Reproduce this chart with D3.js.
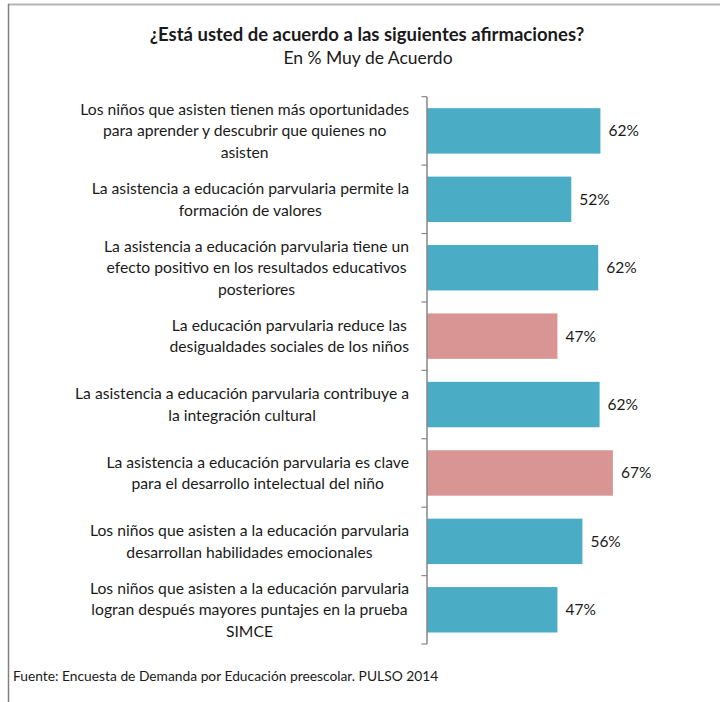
<!DOCTYPE html>
<html>
<head>
<meta charset="utf-8">
<script src="https://cdn.jsdelivr.net/npm/d3@7"></script>
<style>
  html, body { margin: 0; padding: 0; background: #fff; }
  svg { display: block; }
  text { font-family: Lato, "Open Sans", sans-serif; fill: #1a1a1a; }
</style>
</head>
<body>
<svg id="chart" width="720" height="702"></svg>
<script>
// ---- data ----
const categoryLines = [
  ["Los niños que asisten tienen más oportunidades", "para aprender y descubrir que quienes no", "asisten"],
  ["La asistencia a educación parvularia permite la", "formación de valores"],
  ["La asistencia a educación parvularia tiene un", "efecto positivo en los resultados educativos", "posteriores"],
  ["La educación parvularia reduce las", "desigualdades sociales de los niños"],
  ["La asistencia a educación parvularia contribuye a", "la integración cultural"],
  ["La asistencia a educación parvularia es clave", "para el desarrollo intelectual del niño"],
  ["Los niños que asisten a la educación parvularia", "desarrollan habilidades emocionales"],
  ["Los niños que asisten a la educación parvularia", "logran después mayores puntajes en la prueba", "SIMCE"]
];
const values = [62.5, 52, 61.7, 47, 62.2, 67, 56, 47];
const valueLabels = ["62%", "52%", "62%", "47%", "62%", "67%", "56%", "47%"];
const highlighted = [false, false, false, true, false, true, false, false];
const titleText = "¿Está usted de acuerdo a las siguientes afirmaciones?";
const subtitleText = "En % Muy de Acuerdo";
const sourceText = "Fuente: Encuesta de Demanda por Educación preescolar. PULSO 2014";

// ---- layout ----
const svg = d3.select("#chart");
const axisX = 427;
const plotTop = 96.7, plotBottom = 644;
const colorMain = "#4BACC6", colorHi = "#D99594";

// frame
svg.append("line").attr("x1", 8).attr("x2", 720).attr("y1", 4.5).attr("y2", 4.5)
  .attr("stroke", "#b4b4b4").attr("stroke-width", 2);
svg.append("line").attr("x1", 8.5).attr("x2", 8.5).attr("y1", 4).attr("y2", 702)
  .attr("stroke", "#808080").attr("stroke-width", 1.5);

// titles
svg.append("text").attr("x", 367).attr("y", 41).attr("text-anchor", "middle")
  .style("font-weight", "bold").style("font-size", "18.5px").text(titleText);
svg.append("text").attr("x", 368).attr("y", 64).attr("text-anchor", "middle")
  .style("font-size", "17.5px").text(subtitleText);

const idx = d3.range(values.length);
const y = d3.scaleBand().domain(idx).range([plotTop, plotBottom]).paddingInner(0.336).paddingOuter(0.168);
const x = d3.scaleLinear().domain([0, 100]).range([axisX, axisX + 277.5]);

// bars
svg.append("g").selectAll("rect").data(idx).join("rect")
  .attr("x", x(0))
  .attr("y", i => y(i))
  .attr("width", i => x(values[i]) - x(0))
  .attr("height", y.bandwidth())
  .attr("fill", i => highlighted[i] ? colorHi : colorMain);

// value labels
svg.append("g").selectAll("text").data(idx).join("text")
  .attr("x", i => x(values[i]) + 8)
  .attr("y", i => y(i) + y.bandwidth() / 2)
  .attr("dy", "0.35em")
  .style("font-size", "15.5px")
  .text(i => valueLabels[i]);

// axis line + ticks at band boundaries
const axisG = svg.append("g");
axisG.append("line").attr("x1", axisX).attr("x2", axisX).attr("y1", plotTop).attr("y2", plotBottom)
  .attr("stroke", "#878787").attr("stroke-width", 1.5);
const step = y.step();
const boundaries = d3.range(values.length + 1).map(k => y(0) + y.bandwidth() / 2 - step / 2 + k * step);
axisG.selectAll("line.tick").data(boundaries).join("line").attr("class", "tick")
  .attr("x1", axisX - 5.5).attr("x2", axisX).attr("y1", d => d).attr("y2", d => d)
  .attr("stroke", "#878787").attr("stroke-width", 1.2);

// category labels: centered block, right-aligned to label edge
const labelRight = 409;
const lineH = 21.5;
const catG = svg.append("g");
idx.forEach(i => {
  const lines = categoryLines[i];
  const cy = y(i) + y.bandwidth() / 2;
  const t = catG.append("text").attr("text-anchor", "middle").style("font-size", "15.7px");
  const spans = lines.map((ln, k) => t.append("tspan")
    .attr("y", cy + (k - (lines.length - 1) / 2) * lineH)
    .attr("dy", "0.35em").text(ln));
  const maxW = d3.max(spans, s => s.node().getComputedTextLength());
  spans.forEach(s => s.attr("x", labelRight - maxW / 2));
});

// source
svg.append("text").attr("x", 13).attr("y", 681).style("font-size", "13.8px").text(sourceText);
</script>
</body>
</html>
